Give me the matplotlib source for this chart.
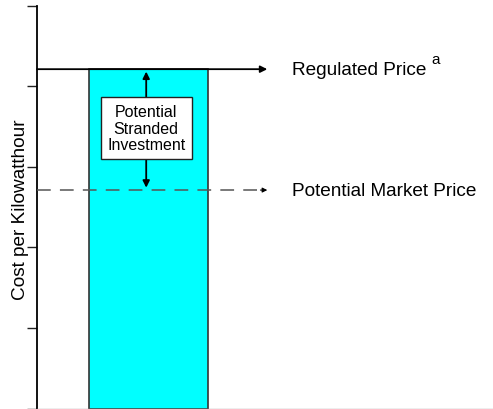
import matplotlib
matplotlib.use("Agg")
import matplotlib.pyplot as plt

# Data (arbitrary cost units)
y_ticks = [0, 1, 2, 3, 4, 5]
regulated_price = 4.21
market_price = 2.71
bar_left = 1.14
bar_right = 3.75
line_end = 5.05
ylabel = "Cost per Kilowatthour"
label_regulated = "Regulated Price"
label_market = "Potential Market Price"
footnote_mark = "a"
box_text = "Potential\nStranded\nInvestment"

plt.rcParams['font.family'] = ['Liberation Sans', 'DejaVu Sans']

fig = plt.figure(figsize=(4.93, 4.10), dpi=100)
ax = fig.add_axes([37/493, 0.5/410, 456/493, 403/410])
ax.set_xlim(0, 10)
ax.set_ylim(0, 5)

ax.bar([(bar_left + bar_right) / 2], [regulated_price], width=bar_right - bar_left,
       color='#00FFFF', edgecolor='#333333', linewidth=1.2, zorder=2)

# regulated price line with arrow
ax.annotate("", xy=(line_end, regulated_price), xytext=(0, regulated_price),
            arrowprops=dict(arrowstyle='-|>', color='black', lw=1.3,
                            mutation_scale=10, shrinkA=0, shrinkB=0), zorder=3)
# market price dashed line with arrow
ax.plot([0, line_end - 0.15], [market_price, market_price], color='#555555',
        lw=1.1, dashes=(9, 6), zorder=3)
ax.annotate("", xy=(line_end, market_price), xytext=(line_end - 0.15, market_price),
            arrowprops=dict(arrowstyle='-|>', color='black', lw=0.8,
                            mutation_scale=7, shrinkA=0, shrinkB=0), zorder=3)

# double arrow
xm = (bar_left + bar_right) / 2 - 0.05
ax.annotate("", xy=(xm, regulated_price - 0.03), xytext=(xm, market_price + 0.03),
            arrowprops=dict(arrowstyle='<|-|>', color='black', lw=1.3,
                            mutation_scale=10, shrinkA=0, shrinkB=0), zorder=4)
ax.text(xm, (regulated_price + market_price) / 2 + 0.02, box_text, ha='center', va='center',
        fontsize=11.5, linespacing=1.15, zorder=5,
        bbox=dict(boxstyle='square,pad=0.4', fc='white', ec='#222222', lw=1.0))

t_reg = ax.text(5.59, regulated_price, label_regulated, ha='left', va='center',
                fontsize=13.7)
ax.annotate(footnote_mark, xy=(1, 1), xycoords=t_reg, xytext=(4, 6),
            textcoords='offset points', ha='left', va='top', fontsize=11)
ax.text(5.59, market_price, label_market, ha='left', va='center', fontsize=13.7)

ax.set_yticks(y_ticks)
ax.set_yticklabels([])
ax.tick_params(axis='y', direction='out', length=7, width=1.0, color='#222222')
ax.set_xticks([])
ax.spines['top'].set_visible(False)
ax.spines['right'].set_visible(False)
ax.spines['left'].set_linewidth(1.3)
ax.spines['bottom'].set_color('#aaaaaa')
ax.spines['bottom'].set_linewidth(1.0)
ax.set_ylabel(ylabel, fontsize=13.7)
ax.yaxis.label.set_va('center')
ax.yaxis.set_label_coords(-0.037, 0.496)
ax.set_facecolor('none')

fig.savefig("out.png", dpi=100)
